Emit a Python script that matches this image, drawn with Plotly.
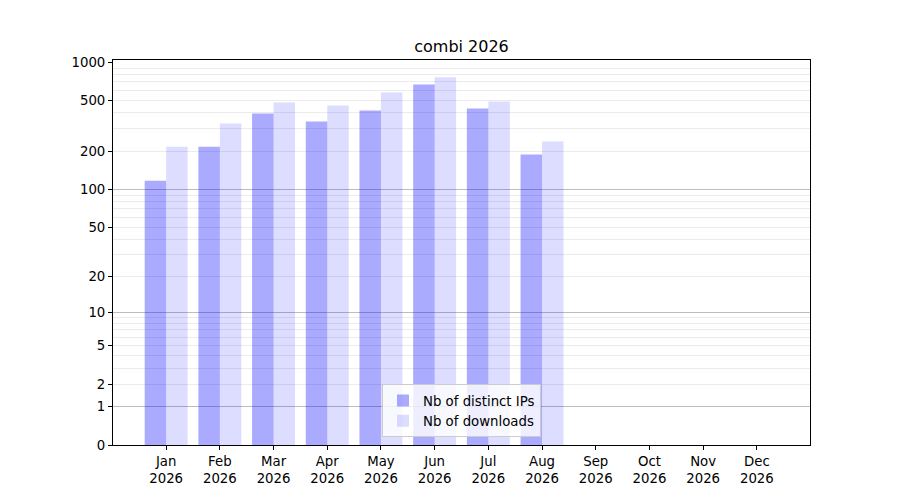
import plotly.graph_objects as go

# monthly stats for 2026 (Sep-Dec not yet available)
months = ['Jan', 'Feb', 'Mar', 'Apr', 'May', 'Jun',
          'Jul', 'Aug', 'Sep', 'Oct', 'Nov', 'Dec']
year = '2026'
distinct_ips = [117, 217, 396, 342, 418, 670, 434, 188, 0, 0, 0, 0]
downloads = [217, 330, 483, 458, 580, 761, 492, 238, 0, 0, 0, 0]

# y axis ticks (symlog-like scale, drawn as log10(1 + v))
y_ticks = [0, 1, 2, 5, 10, 20, 50, 100, 200, 500, 1000]
major_grid = [1, 10, 100]
minor_grid = [k * d for d in (1, 10, 100) for k in range(2, 10)]

x_pos = list(range(len(months)))
x_labels = [m + '<br>' + year for m in months]

fig = go.Figure()
fig.add_trace(go.Bar(
    x=x_pos,
    y=[v + 1 for v in distinct_ips],
    name='Nb of distinct IPs',
    marker_color='rgba(0,0,255,0.333)',
    marker_line_width=0,
))
fig.add_trace(go.Bar(
    x=x_pos,
    y=[v + 1 for v in downloads],
    name='Nb of downloads',
    marker_color='rgba(0,0,255,0.133)',
    marker_line_width=0,
))
# empty trace so the overlay axis (major grid) gets drawn
fig.add_trace(go.Scatter(x=[None], y=[None], yaxis='y2',
                         showlegend=False, hoverinfo='skip'))

y_range = [0, 3.018]

fig.update_layout(
    width=900,
    height=500,
    template='simple_white',
    font=dict(family='DejaVu Sans', size=13.3, color='black'),
    title=dict(text='combi 2026', x=0.5, xref='paper', y=1 - 46 / 500,
               yref='container', yanchor='middle',
               font=dict(size=16, color='black')),
    barmode='group',
    bargap=0.2,
    bargroupgap=0,
    plot_bgcolor='white',
    paper_bgcolor='white',
    margin=dict(l=113, r=90, t=60, b=55),
    xaxis=dict(
        tickmode='array',
        tickvals=x_pos,
        ticktext=x_labels,
        range=[-0.99, 11.99],
        showline=True, mirror=True, linecolor='black', linewidth=1,
        ticks='outside', ticklen=4, tickcolor='black',
        showgrid=False, zeroline=False,
    ),
    yaxis=dict(
        type='log',
        range=y_range,
        tickmode='array',
        tickvals=[t + 1 for t in y_ticks],
        ticktext=[str(t) for t in y_ticks],
        showline=True, mirror=True, linecolor='black', linewidth=1,
        ticks='outside', ticklen=4, tickcolor='black',
        showgrid=False, zeroline=False,
        minor=dict(
            tickmode='array',
            tickvals=[t + 1 for t in minor_grid],
            ticks='',
            showgrid=True,
            gridcolor='#ebebeb',
            gridwidth=1,
        ),
    ),
    yaxis2=dict(
        type='log',
        overlaying='y',
        range=y_range,
        tickmode='array',
        tickvals=[t + 1 for t in major_grid],
        showticklabels=False,
        ticks='',
        showgrid=True,
        gridcolor='#bdbdbd',
        gridwidth=1,
        showline=False,
        zeroline=False,
    ),
    legend=dict(
        x=0.5, xanchor='center',
        y=0.02, yanchor='bottom',
        bgcolor='rgba(255,255,255,0.8)',
        bordercolor='#cccccc',
        borderwidth=1,
        font=dict(size=13.3),
        traceorder='normal',
    ),
)

fig.write_html('out.html', config={'displayModeBar': False},
               post_script="document.body.style.margin='0';")
